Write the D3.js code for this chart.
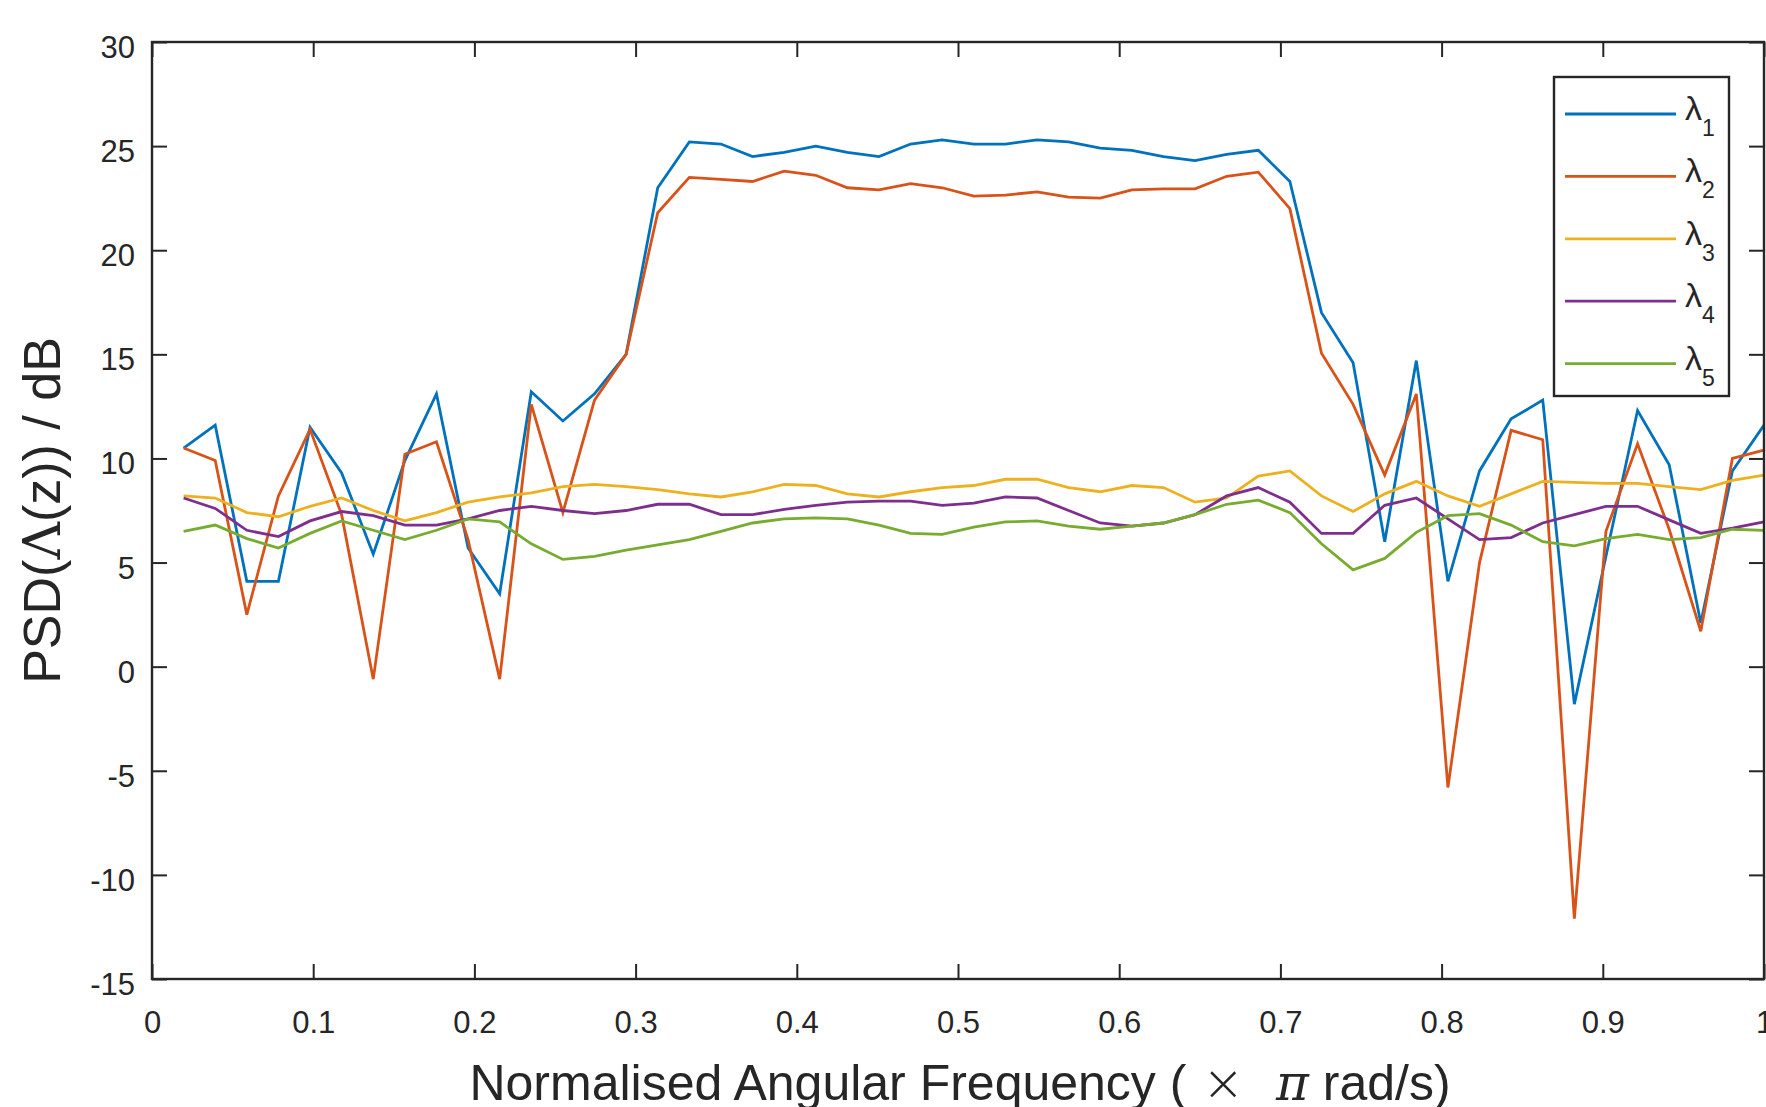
<!DOCTYPE html>
<html>
<head>
<meta charset="utf-8">
<script src="https://cdn.jsdelivr.net/npm/d3@7"></script>
<style>
  html, body { margin: 0; padding: 0; background: #ffffff; }
  svg { display: block; font-family: "Liberation Sans", Arial, Helvetica, sans-serif; }
</style>
</head>
<body>
<svg id="chart" width="1766" height="1107"></svg>
<script>
// ---- data ----
const nPoints = 51;
const freqs = d3.range(1, nPoints + 1).map(k => k / nPoints);

const lambda1 = [10.5, 11.6, 4.1, 4.1, 11.5, 9.3, 5.4, 9.9, 13.1, 5.7,
  3.5, 13.2, 11.8, 13.1, 15.0, 23.0, 25.2, 25.1, 24.5, 24.7,
  25.0, 24.7, 24.5, 25.1, 25.3, 25.1, 25.1, 25.3, 25.2, 24.9,
  24.8, 24.5, 24.3, 24.6, 24.8, 23.3, 17.0, 14.6, 6.0, 14.7,
  4.1, 9.4, 11.9, 12.8, -1.8, 5.3, 12.3, 9.7, 2.1, 9.4, 11.6];

const lambda2 = [10.5, 9.9, 2.5, 8.2, 11.4, 7.3, -0.6, 10.2, 10.8, 6.1,
  -0.6, 12.6, 7.4, 12.8, 15.0, 21.8, 23.5, 23.4, 23.3, 23.8,
  23.6, 23.0, 22.9, 23.2, 23.0, 22.6, 22.65, 22.8, 22.55, 22.5,
  22.9, 22.95, 22.95, 23.55, 23.75, 22.0, 15.05, 12.6, 9.2, 13.1,
  -5.8, 5.0, 11.35, 10.9, -12.1, 6.5, 10.7, 6.6, 1.7, 10.0, 10.4];

const lambda3 = [8.2, 8.1, 7.4, 7.2, 7.7, 8.1, 7.5, 7.0, 7.4, 7.9,
  8.15, 8.35, 8.65, 8.75, 8.65, 8.5, 8.3, 8.15, 8.4, 8.75,
  8.7, 8.3, 8.15, 8.4, 8.6, 8.7, 9.0, 9.0, 8.6, 8.4,
  8.7, 8.6, 7.9, 8.1, 9.15, 9.4, 8.2, 7.45, 8.3, 8.9,
  8.2, 7.7, 8.3, 8.9, 8.85, 8.8, 8.8, 8.65, 8.5, 8.95, 9.2];

const lambda4 = [8.1, 7.6, 6.55, 6.25, 7.0, 7.45, 7.25, 6.8, 6.8, 7.1,
  7.5, 7.7, 7.5, 7.35, 7.5, 7.8, 7.8, 7.3, 7.3, 7.55,
  7.75, 7.9, 7.95, 7.95, 7.75, 7.85, 8.15, 8.1, 7.5, 6.9,
  6.75, 6.9, 7.3, 8.2, 8.6, 7.9, 6.4, 6.4, 7.75, 8.1,
  7.1, 6.1, 6.2, 6.9, 7.3, 7.7, 7.7, 7.05, 6.4, 6.65, 6.95];

const lambda5 = [6.5, 6.8, 6.15, 5.7, 6.4, 7.0, 6.55, 6.1, 6.55, 7.1,
  6.95, 5.9, 5.15, 5.3, 5.6, 5.85, 6.1, 6.5, 6.9, 7.1,
  7.15, 7.1, 6.8, 6.4, 6.35, 6.7, 6.95, 7.0, 6.75, 6.6,
  6.75, 6.9, 7.3, 7.8, 8.0, 7.4, 5.9, 4.65, 5.2, 6.45,
  7.25, 7.35, 6.8, 6.0, 5.8, 6.15, 6.35, 6.1, 6.2, 6.6, 6.55];

const seriesNames = ["1", "2", "3", "4", "5"];
const seriesValues = [lambda1, lambda2, lambda3, lambda4, lambda5];
const seriesColors = ["#0072BD", "#D95319", "#EDB120", "#7E2F8E", "#77AC30"];

const xTicks = [0, 0.1, 0.2, 0.3, 0.4, 0.5, 0.6, 0.7, 0.8, 0.9, 1];
const yTicks = [-15, -10, -5, 0, 5, 10, 15, 20, 25, 30];
const xDomain = [0, 1];
const yDomain = [-15, 30];

// ---- layout ----
const plot = { left: 152, right: 1764, top: 42, bottom: 979 };
const axisColor = "#262626";

const svg = d3.select("#chart");
const x = d3.scaleLinear().domain(xDomain).range([plot.left, plot.right]);
const y = d3.scaleLinear().domain(yDomain).range([plot.bottom, plot.top]);

const fmtX = d => (d === 0 || d === 1) ? String(d) : d3.format(".1f")(d);
const fmtY = d => String(d);

function styleAxis(g) {
  g.select(".domain").remove();
  g.selectAll(".tick line").attr("stroke", axisColor).attr("stroke-width", 2);
  g.selectAll(".tick text").attr("fill", axisColor).attr("font-size", 31)
    .attr("font-family", "'Liberation Sans', Arial, sans-serif");
}

// lines
const line = d3.line().x((d, i) => x(freqs[i])).y(d => y(d));
svg.append("g").selectAll("path")
  .data(seriesValues)
  .join("path")
  .attr("d", d => line(d))
  .attr("fill", "none")
  .attr("stroke", (d, i) => seriesColors[i])
  .attr("stroke-width", 2.8)
  .attr("stroke-linejoin", "miter");

// axes
svg.append("g").attr("transform", `translate(0,${plot.bottom})`)
  .call(d3.axisBottom(x).tickValues(xTicks).tickFormat(fmtX).tickSize(-15).tickPadding(32))
  .call(styleAxis);
svg.append("g").attr("transform", `translate(0,${plot.top})`)
  .call(d3.axisTop(x).tickValues(xTicks).tickFormat("").tickSize(-15))
  .call(styleAxis);
svg.append("g").attr("transform", `translate(${plot.left},0)`)
  .call(d3.axisLeft(y).tickValues(yTicks).tickFormat(fmtY).tickSize(-15).tickPadding(17))
  .call(styleAxis)
  .call(g => g.selectAll(".tick text").attr("dy", "0.5em"));
svg.append("g").attr("transform", `translate(${plot.right},0)`)
  .call(d3.axisRight(y).tickValues(yTicks).tickFormat("").tickSize(-15))
  .call(styleAxis);

// box
svg.append("rect")
  .attr("x", plot.left).attr("y", plot.top)
  .attr("width", plot.right - plot.left).attr("height", plot.bottom - plot.top)
  .attr("fill", "none").attr("stroke", axisColor).attr("stroke-width", 2.4);

// x label
const xl = svg.append("text")
  .attr("x", (plot.left + plot.right) / 2 + 2).attr("y", 1100)
  .attr("text-anchor", "middle").attr("font-size", 50).attr("fill", axisColor);
xl.append("tspan").text("Normalised Angular Frequency (");
xl.append("tspan").attr("font-family", "'DejaVu Sans', sans-serif").attr("font-weight", 300).text("\u00A0×\u00A0\u00A0");
xl.append("tspan").attr("font-family", "'DejaVu Serif', serif").attr("font-style", "italic").text("π");
xl.append("tspan").text(" rad/s)");

// y label
const yl = svg.append("text")
  .attr("transform", `translate(60,${(plot.top + plot.bottom) / 2}) rotate(-90)`)
  .attr("text-anchor", "middle").attr("font-size", 52).attr("fill", axisColor);
yl.append("tspan").text("PSD(");
yl.append("tspan").attr("font-family", "'DejaVu Serif', serif").attr("font-weight", 300).text("Λ");
yl.append("tspan").text("(z)) / dB");

// legend
const legend = { x: 1554, y: 77, w: 175, h: 319, y0: 114, step: 62.4 };
svg.append("rect")
  .attr("x", legend.x).attr("y", legend.y).attr("width", legend.w).attr("height", legend.h)
  .attr("fill", "#ffffff").attr("stroke", axisColor).attr("stroke-width", 2.4);
const items = svg.append("g").selectAll("g")
  .data(seriesNames)
  .join("g")
  .attr("transform", (d, i) => `translate(0,${legend.y0 + i * legend.step})`);
items.append("line")
  .attr("x1", 1565).attr("x2", 1676).attr("y1", 0).attr("y2", 0)
  .attr("stroke", (d, i) => seriesColors[i]).attr("stroke-width", 2.8);
const lt = items.append("text").attr("x", 1685).attr("y", 6)
  .attr("font-size", 34).attr("fill", axisColor);
lt.append("tspan").text("λ");
lt.append("tspan").attr("font-size", 23).attr("dy", 16).text(d => d);
</script>
</body>
</html>
